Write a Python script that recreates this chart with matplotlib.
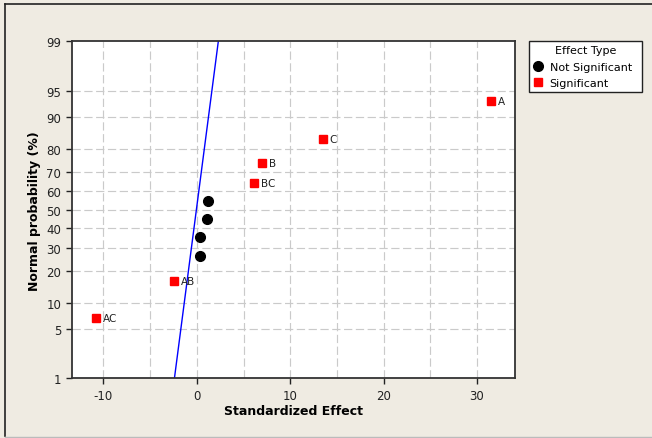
import math
import numpy as np
import matplotlib
matplotlib.use("Agg")
import matplotlib.pyplot as plt
from matplotlib.lines import Line2D

# effects (standardized effect, normal probability %)
sig_names = ["A", "C", "B", "BC", "AB", "AC"]
sig_effect = [31.5, 13.5, 7.0, 6.1, -2.4, -10.8]
sig_prob = [93.3, 83.6, 74.0, 64.4, 16.3, 6.7]

ns_effect = [1.2, 1.05, 0.35, 0.35]
ns_prob = [54.8, 45.2, 35.6, 26.0]

# fitted line endpoints
line_effect = [-2.4, 2.3]
line_prob = [1, 99]

yticks = [1, 5, 10, 20, 30, 40, 50, 60, 70, 80, 90, 95, 99]
ygrid = [5, 10, 20, 30, 40, 50, 60, 70, 80, 90, 95]
xticks = [-10, 0, 10, 20, 30]
xgrid = [-10, -5, 0, 5, 10, 15, 20, 25, 30]

_erf = np.vectorize(math.erf, otypes=[float])


def cdf(z):
    return 100 * 0.5 * (1 + _erf(np.asarray(z, dtype=float) / math.sqrt(2)))


def ppf(p):
    p = np.clip(np.asarray(p, dtype=float), 1e-6, 100 - 1e-6)
    lo = np.full(p.shape, -8.0)
    hi = np.full(p.shape, 8.0)
    for _ in range(60):
        mid = (lo + hi) / 2
        below = cdf(mid) < p
        lo = np.where(below, mid, lo)
        hi = np.where(below, hi, mid)
    return (lo + hi) / 2


bg = "#EFEBE2"
plt.rcParams['font.family'] = ['DejaVu Sans']
fig = plt.figure(figsize=(6.52, 4.39), dpi=100, facecolor=bg)
W, H = 652, 439
ax = fig.add_axes([71.7 / W, 1 - 379.3 / H, (515.3 - 71.7) / W, (379.3 - 42.3) / H])
ax.set_yscale("function", functions=(ppf, cdf))
ax.set_xlim(-13.4, 34.1)
ax.set_ylim(1, 99)

for g in xgrid:
    ax.axvline(g, color="#CACACA", linestyle=(0, (7, 3)), linewidth=0.85, zorder=0)
for g in ygrid:
    ax.axhline(g, color="#CACACA", linestyle=(0, (7, 3)), linewidth=0.85, zorder=0)

ax.plot(line_effect, line_prob, color="#0000FF", linewidth=1.0, zorder=2)
ax.plot(ns_effect, ns_prob, "o", color="black", markersize=7, linestyle="none", zorder=3)
ax.plot(sig_effect, sig_prob, "s", color="#FF0000", markersize=6, linestyle="none", zorder=3)
for name, x, p in zip(sig_names, sig_effect, sig_prob):
    ax.annotate(name, (x, p), xytext=(5, 0), textcoords="offset points",
                va="center", ha="left", fontsize=7.5, color="#222222")

ax.set_xticks(xticks)
ax.set_xticklabels([str(t) for t in xticks])
ax.set_yticks(yticks)
ax.set_yticklabels([str(t) for t in yticks])
ax.yaxis.set_minor_locator(matplotlib.ticker.NullLocator())
ax.tick_params(direction="out", length=4, width=1, labelsize=8.5, colors="#222222")
for s in ax.spines.values():
    s.set_color("#333333")
    s.set_linewidth(1.3)

ax.set_xlabel("Standardized Effect", fontsize=9, fontweight="bold", labelpad=2)
ax.set_ylabel("Normal probability (%)", fontsize=9, fontweight="bold", labelpad=4)

handles = [
    Line2D([], [], marker="o", color="black", linestyle="none", markersize=7),
    Line2D([], [], marker="s", color="#FF0000", linestyle="none", markersize=6),
]
leg = fig.legend(handles, ["Not Significant", "Significant"], title="Effect Type",
                 loc="upper left", bbox_to_anchor=(529 / W, 1 - 93 / H, 113 / W, 51 / H),
                 mode="expand", fontsize=8, title_fontsize=8, frameon=True, fancybox=False,
                 framealpha=1, borderpad=0.35, handletextpad=0.5, handlelength=1.0,
                 labelspacing=0.6, borderaxespad=0)
leg.get_frame().set_edgecolor("#222222")
leg.get_frame().set_linewidth(1.0)
leg.get_frame().set_facecolor("white")

# window frame
fig.add_artist(Line2D([4.5 / W, 4.5 / W], [1 - 437 / H, 1 - 4.5 / H], color="#222222", linewidth=1.2))
fig.add_artist(Line2D([4.5 / W, 1], [1 - 4.5 / H, 1 - 4.5 / H], color="#222222", linewidth=1.2))
fig.add_artist(Line2D([4.5 / W, 1], [1 - 437.5 / H, 1 - 437.5 / H], color="#BBBBBB", linewidth=1.0))

fig.savefig("out.png", dpi=100, facecolor=bg)
